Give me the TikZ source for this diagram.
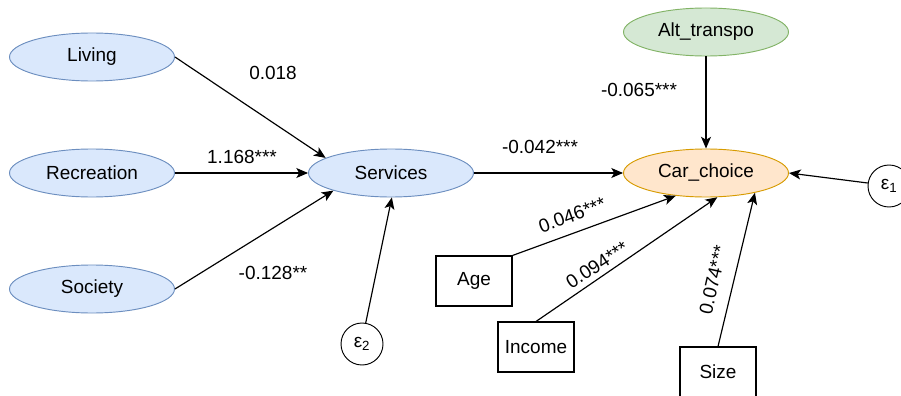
\documentclass[tikz,border=0pt]{standalone}
\usepackage{fontspec}
\setmainfont{Liberation Sans}
\usetikzlibrary{shapes.geometric}
\usetikzlibrary{arrows.meta}
\usetikzlibrary{positioning}
\definecolor{latfill}{HTML}{DAE8FC}
\definecolor{latdraw}{HTML}{6C8EBF}
\definecolor{altfill}{HTML}{D5E8D4}
\definecolor{altdraw}{HTML}{82B366}
\definecolor{carfill}{HTML}{FFE6CC}
\definecolor{cardraw}{HTML}{D79B00}
\tikzset{
  every node/.style={font=\fontsize{16.2}{19}\selectfont},
  latent/.style={ellipse,draw=latdraw,fill=latfill,line width=0.8pt,
    minimum width=4.95cm,minimum height=1.44cm,inner sep=0pt},
  observed/.style={rectangle,draw,line width=0.9pt,
    minimum width=2.28cm,minimum height=1.5cm,inner sep=0pt},
  errnode/.style={circle,draw,line width=0.8pt,minimum size=1.26cm,inner sep=0pt},
  path/.style={line width=1pt,-{Stealth[length=10pt,width=8.5pt,inset=2.5pt]}},
  coef/.style={inner sep=0pt}
}

\begin{document}
\begin{tikzpicture}[x=0.03cm,y=-0.03cm]
  %
  \useasboundingbox (0,0) rectangle (901,396);

  % latent variables
  \node[latent] (Living) at (92,57) {Living};
  \node[latent] (Recreation) at (92,173) {Recreation};
  \node[latent] (Society) at (92,289) {Society};
  \node[latent] (Services) at (391,173) {Services};
  \node[latent,fill=carfill,draw=cardraw] (Car) at (706,173) {Car\_choice};
  \node[latent,fill=altfill,draw=altdraw] (Alt) at (706,32) {Alt\_transpo};

  % observed variables and errors
  \node[observed] (Age) at (474,281) {Age};
  \node[observed] (Income) at (536,347) {Income};
  \node[observed] (Size) at (718,372) {Size};
  \node[errnode] (eps1) at (889,186) {ε\textsubscript{1}};
  \node[errnode] (eps2) at (362,344) {ε\textsubscript{2}};

  \draw[path] (Living.east) -- (Services.167);
  \draw[path] (Recreation.east) -- (Services.west);
  \draw[path] (Society.east) -- (Services.197);
  \draw[path] (eps2.80) -- (Services.-88);
  \draw[path] (Services.east) -- (Car.west);
  \draw[path] (Alt.south) -- (Car.north);
  \draw[path] (eps1.172) -- (Car.east);
  \draw[path] (Age.north east) -- (Car.217);
  \draw[path] (Income.north) -- (Car.-65);
  \draw[path] (Size.north) -- (Car.-22);

  % coefficients
  \node[coef] (cLiving) at (273,73) {0.018};
  \node[coef] (cRecreation) at (242,157) {1.168***};
  \node[coef] (cSociety) at (273,273) {-0.128**};
  \node[coef] (cServices) at (540,147) {-0.042***};
  \node[coef] (cAlt) at (639,90) {-0.065***};
  \node[coef,rotate=20] (cAge) at (572,215) {0.046***};
  \node[coef,rotate=33] (cIncome) at (597,265) {0.094***};
  \node[coef,rotate=77] (cSize) at (713,280) {0.074***};

\end{tikzpicture}
\end{document}
